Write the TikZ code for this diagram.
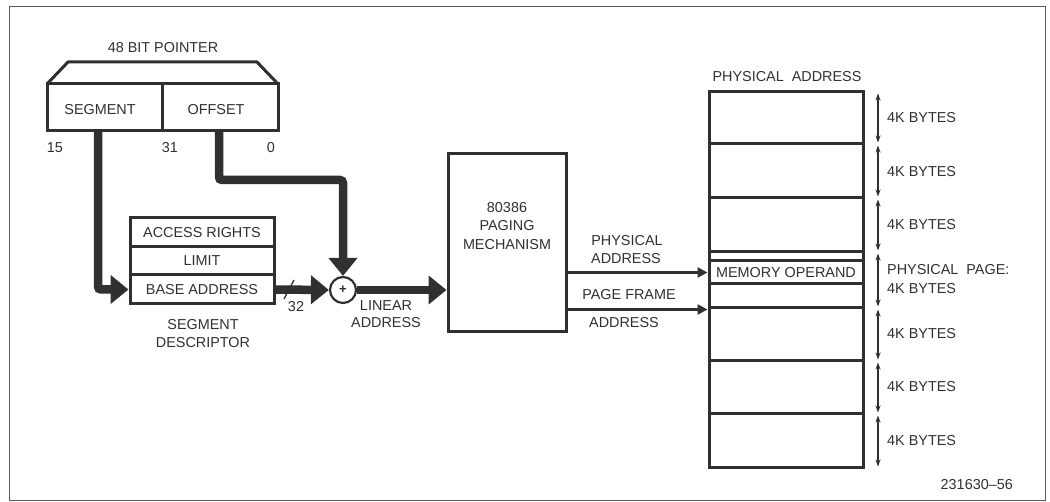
\documentclass[tikz,border=0pt]{standalone}
\usepackage{fontspec}
\setmainfont{Liberation Sans}
\usetikzlibrary{arrows.meta}
\definecolor{ink}{HTML}{303030}
\begin{document}
\begin{tikzpicture}[x=1pt,y=-1pt,
  every node/.style={font=\fontsize{14.4}{16}\selectfont, text=ink, inner sep=0pt},
  lbl/.style={},
  cell/.style={draw=ink, line width=3pt, rectangle, minimum width=#1, fill=white},
  thickarrow/.style={draw=ink, line width=8.5pt, rounded corners=3pt, -{Triangle[width=28pt,length=18pt]}},
  thinarrow/.style={draw=ink, line width=3pt, -{Triangle[width=10pt,length=10pt]}},
  dimarrow/.style={draw=ink, line width=1.1pt, {Stealth[width=5pt,length=7pt]}-{Stealth[width=5pt,length=7pt]}},
  adderstyle/.style={draw=ink, line width=2.2pt, circle, minimum size=26pt, fill=white, font=\fontsize{13}{13}\bfseries\selectfont}
]
\useasboundingbox (0,0) rectangle (1050,502);
\draw[ink!80, line width=1pt] (9,7) rectangle (1045,500);

% 48 bit pointer
\node[lbl] (ptrtitle) at (163,48) {48 BIT POINTER};
\draw[ink, line width=3pt, line join=round] (47,84) -- (68,62) -- (257,62) -- (278,84);
\node[cell=115pt, minimum height=47pt] (ptrSeg) at (104.5,107.5) {};
\node[cell=116pt, minimum height=47pt] (ptrOff) at (220,107.5) {};
\node (segtxt) at (100,110) {SEGMENT};
\node (offtxt) at (216,110) {OFFSET};
\node (b15) at (55,148) {15};
\node (b31) at (170,148) {31};
\node (b0) at (271,148) {0};

% segment descriptor
\node[cell=144pt, minimum height=29pt] (access) at (202,232.5) {ACCESS RIGHTS};
\node[cell=144pt, minimum height=28pt] (limit) at (202,261) {LIMIT};
\node[cell=144pt, minimum height=29pt] (base) at (202,289.5) {BASE ADDRESS};
\node[align=center, font=\fontsize{14.4}{18}\selectfont] (desclbl) at (203,334) {SEGMENT\\DESCRIPTOR};

% adder
\node[adderstyle] (adder) at (343,290) {+};

% paging mechanism
\node[cell=118pt, minimum height=178pt] (paging) at (507,243) {};
\node[align=center, font=\fontsize{14.4}{18.5}\selectfont] (pagingtxt) at (507,226) {80386\\PAGING\\MECHANISM};

% thick arrows
\coordinate (segstart) at (98,131);
\coordinate (offstart) at (219,131);
\coordinate (offbend) at (219,180);
\draw[thickarrow] (segstart) |- (base.west);
\draw[thickarrow] (offstart) -- (offbend) -| (adder.north);
\draw[thickarrow] (base.east) -- (adder.west);
\draw[thickarrow] (adder.east) -- (paging.west |- adder.east);
\draw[ink, line width=1.3pt] (284,299) -- (294,280);
\node (w32) at (296,307) {32};
\node[align=center, font=\fontsize{14.4}{16.5}\selectfont] (linlbl) at (386,314) {LINEAR\\ADDRESS};

% memory column
\node (memtitle) at (787,77) {PHYSICAL\ \ ADDRESS};
\node[cell=154pt, minimum height=52pt] (p1) at (786,118) {};
\node[cell=154pt, minimum height=54pt] (p2) at (786,171) {};
\node[cell=154pt, minimum height=54pt] (p3) at (786,225) {};
\node[cell=154pt, minimum height=53pt] (p5) at (786,334.5) {};
\node[cell=154pt, minimum height=53pt] (p6) at (786,387.5) {};
\node[cell=154pt, minimum height=54pt] (p7) at (786,441) {};
\node[cell=154pt, minimum height=56pt] (pp) at (786,280) {};
\node[cell=154pt, minimum height=23pt] (op) at (786,272.5) {MEMORY OPERAND};

% arrows from paging
\draw[thinarrow] (paging.east |- op.west) -- (op.west);
\draw[thinarrow] (paging.east |- pp.south west) -- (pp.south west);
\node (pa1) at (627,241) {PHYSICAL};
\node (pa2) at (626,259) {ADDRESS};
\node (pf1) at (629,295) {PAGE FRAME};
\node (pf2) at (624,323) {ADDRESS};

% dimension arrows
\foreach \n/\t/\b in {d1/92/144, d2/144/198, d3/198/252, d4/252/308, d5/308/361, d6/361/414, d7/414/468}{
  \coordinate (\n t) at (878,\t+1.5);
  \coordinate (\n b) at (878,\b-1.5);
  \draw[dimarrow] (\n t) -- (\n b);
}
\node[anchor=west] (k1) at (887,118) {4K BYTES};
\node[anchor=west] (k2) at (887,172) {4K BYTES};
\node[anchor=west] (k3) at (887,225) {4K BYTES};
\node[anchor=west] (k4a) at (887,270) {PHYSICAL\ \ PAGE:};
\node[anchor=west] (k4b) at (887,289) {4K BYTES};
\node[anchor=west] (k5) at (887,334) {4K BYTES};
\node[anchor=west] (k6) at (887,387) {4K BYTES};
\node[anchor=west] (k7) at (887,441) {4K BYTES};

\node[anchor=east] (fig) at (1013,485) {231630--56};
\end{tikzpicture}
\end{document}
